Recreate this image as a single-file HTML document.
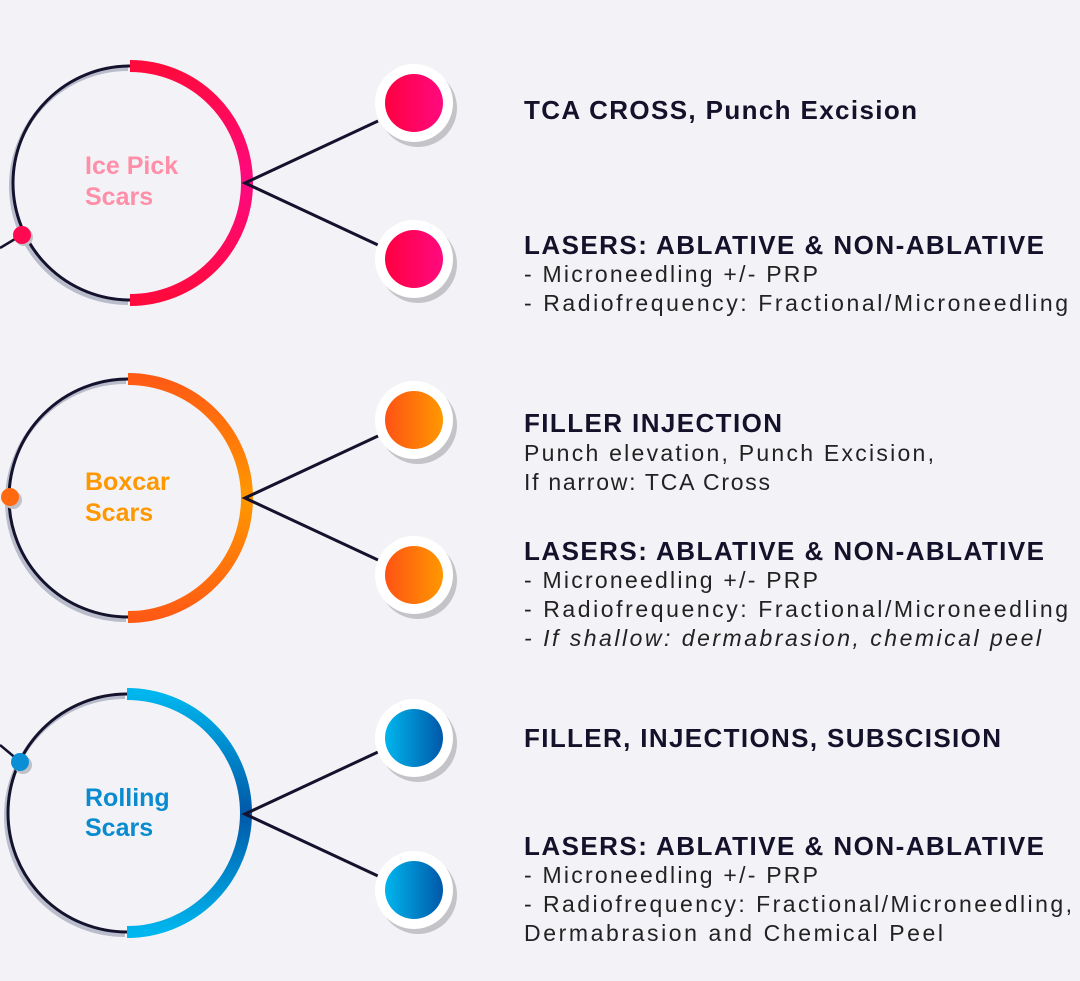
<!DOCTYPE html>
<html><head><meta charset="utf-8"><style>
html,body{margin:0;padding:0;background:#f3f3f7;}
svg{display:block;}
.h{font-family:"Liberation Sans",sans-serif;font-weight:bold;font-size:26px;fill:#14112a;}
.b{font-family:"Liberation Sans",sans-serif;font-size:23px;fill:#222;}
.l{font-family:"Liberation Sans",sans-serif;font-weight:bold;font-size:25px;}
</style></head><body>
<svg width="1080" height="981" viewBox="0 0 1080 981" xmlns="http://www.w3.org/2000/svg">
<defs>
<linearGradient id="pa" x1="0" y1="0" x2="0" y2="1"><stop offset="0" stop-color="#ff0a3c"/><stop offset=".5" stop-color="#ff0a80"/><stop offset="1" stop-color="#ff0a3c"/></linearGradient>
<linearGradient id="oa" x1="0" y1="0" x2="0" y2="1"><stop offset="0" stop-color="#ff5a14"/><stop offset=".5" stop-color="#ff9800"/><stop offset="1" stop-color="#ff5a14"/></linearGradient>
<linearGradient id="ba" x1="0" y1="0" x2="0" y2="1"><stop offset="0" stop-color="#00b6ee"/><stop offset=".5" stop-color="#0058a8"/><stop offset="1" stop-color="#00b6ee"/></linearGradient>
<linearGradient id="pn" x1="0" y1="0" x2="1" y2="0"><stop offset="0" stop-color="#ff0040"/><stop offset="1" stop-color="#ff0a80"/></linearGradient>
<linearGradient id="on" x1="0" y1="0" x2="1" y2="0"><stop offset="0" stop-color="#ff5214"/><stop offset="1" stop-color="#ff9800"/></linearGradient>
<linearGradient id="bn" x1="0" y1="0" x2="1" y2="0"><stop offset="0" stop-color="#00b6ee"/><stop offset="1" stop-color="#0058a8"/></linearGradient>
</defs>

<g>
<path d="M128,69 A117,117 0 0 0 128,303" fill="none" stroke="#b9bccb" stroke-width="4"/>
<path d="M130,66 A117,117 0 0 0 130,300" fill="none" stroke="#15122e" stroke-width="3"/>
<path d="M130,66 A117,117 0 0 1 130,300" fill="none" stroke="url(#pa)" stroke-width="12"/>
<line x1="0" y1="248" x2="20" y2="236" stroke="#15122e" stroke-width="2.5"/>
<circle cx="24" cy="237" r="9" fill="#c0c0c8"/>
<circle cx="22" cy="235" r="9" fill="#ff0a50"/>
<polyline points="378,121 245,183 378,245" fill="none" stroke="#15122e" stroke-width="3"/>
<circle cx="418" cy="108" r="39" fill="#c4c4c8"/><circle cx="414" cy="103" r="39" fill="#fff"/><circle cx="414" cy="103" r="29" fill="url(#pn)"/>
<circle cx="418" cy="264" r="39" fill="#c4c4c8"/><circle cx="414" cy="259" r="39" fill="#fff"/><circle cx="414" cy="259" r="29" fill="url(#pn)"/>
<text class="l" x="85" y="174" fill="#ff8ea8">Ice Pick</text>
<text class="l" x="85" y="205" fill="#ff8ea8">Scars</text>
</g>

<g>
<path d="M126,382 A119,119 0 0 0 126,620" fill="none" stroke="#b9bccb" stroke-width="4"/>
<path d="M128,379 A119,119 0 0 0 128,617" fill="none" stroke="#15122e" stroke-width="3"/>
<path d="M128,379 A119,119 0 0 1 128,617" fill="none" stroke="url(#oa)" stroke-width="12"/>
<circle cx="13" cy="500" r="9" fill="#c0c0c8"/>
<circle cx="10" cy="497" r="9" fill="#ff6a10"/>
<polyline points="378,436 245,498 378,560" fill="none" stroke="#15122e" stroke-width="3"/>
<circle cx="418" cy="425" r="39" fill="#c4c4c8"/><circle cx="414" cy="420" r="39" fill="#fff"/><circle cx="414" cy="420" r="29" fill="url(#on)"/>
<circle cx="418" cy="580" r="39" fill="#c4c4c8"/><circle cx="414" cy="575" r="39" fill="#fff"/><circle cx="414" cy="575" r="29" fill="url(#on)"/>
<text class="l" x="85" y="490" fill="#ff9800">Boxcar</text>
<text class="l" x="85" y="521" fill="#ff9800">Scars</text>
</g>

<g>
<path d="M125,697 A119,119 0 0 0 125,935" fill="none" stroke="#b9bccb" stroke-width="4"/>
<path d="M127,694 A119,119 0 0 0 127,932" fill="none" stroke="#15122e" stroke-width="3"/>
<path d="M127,694 A119,119 0 0 1 127,932" fill="none" stroke="url(#ba)" stroke-width="12"/>
<line x1="0" y1="745" x2="18" y2="760" stroke="#15122e" stroke-width="2.5"/>
<circle cx="23" cy="765" r="9" fill="#c0c0c8"/>
<circle cx="20" cy="762" r="9" fill="#0a8fd6"/>
<polyline points="378,752 245,814 378,876" fill="none" stroke="#15122e" stroke-width="3"/>
<circle cx="418" cy="743" r="39" fill="#c4c4c8"/><circle cx="414" cy="738" r="39" fill="#fff"/><circle cx="414" cy="738" r="29" fill="url(#bn)"/>
<circle cx="418" cy="895" r="39" fill="#c4c4c8"/><circle cx="414" cy="890" r="39" fill="#fff"/><circle cx="414" cy="890" r="29" fill="url(#bn)"/>
<text class="l" x="85" y="806" fill="#0a8bd0">Rolling</text>
<text class="l" x="85" y="836" fill="#0a8bd0">Scars</text>
</g>

<text class="h" x="524" y="119" textLength="393" lengthAdjust="spacing">TCA CROSS, Punch Excision</text>
<text class="h" x="524" y="254" textLength="520" lengthAdjust="spacing">LASERS: ABLATIVE &amp; NON-ABLATIVE</text>
<text class="b" x="524" y="282" textLength="294" lengthAdjust="spacing">- Microneedling +/- PRP</text>
<text class="b" x="524" y="311" textLength="544" lengthAdjust="spacing">- Radiofrequency: Fractional/Microneedling</text>

<text class="h" x="524" y="432" textLength="258" lengthAdjust="spacing">FILLER INJECTION</text>
<text class="b" x="524" y="461" textLength="410" lengthAdjust="spacing">Punch elevation, Punch Excision,</text>
<text class="b" x="524" y="490" textLength="246" lengthAdjust="spacing">If narrow: TCA Cross</text>
<text class="h" x="524" y="560" textLength="520" lengthAdjust="spacing">LASERS: ABLATIVE &amp; NON-ABLATIVE</text>
<text class="b" x="524" y="588" textLength="294" lengthAdjust="spacing">- Microneedling +/- PRP</text>
<text class="b" x="524" y="617" textLength="544" lengthAdjust="spacing">- Radiofrequency: Fractional/Microneedling</text>
<text class="b" x="524" y="646" textLength="517" lengthAdjust="spacing" font-style="italic">- If shallow: dermabrasion, chemical peel</text>

<text class="h" x="524" y="747" textLength="477" lengthAdjust="spacing">FILLER, INJECTIONS, SUBSCISION</text>
<text class="h" x="524" y="855" textLength="520" lengthAdjust="spacing">LASERS: ABLATIVE &amp; NON-ABLATIVE</text>
<text class="b" x="524" y="883" textLength="294" lengthAdjust="spacing">- Microneedling +/- PRP</text>
<text class="b" x="524" y="912" textLength="548" lengthAdjust="spacing">- Radiofrequency: Fractional/Microneedling,</text>
<text class="b" x="524" y="941" textLength="419" lengthAdjust="spacing">Dermabrasion and Chemical Peel</text>
</svg>
</body></html>
